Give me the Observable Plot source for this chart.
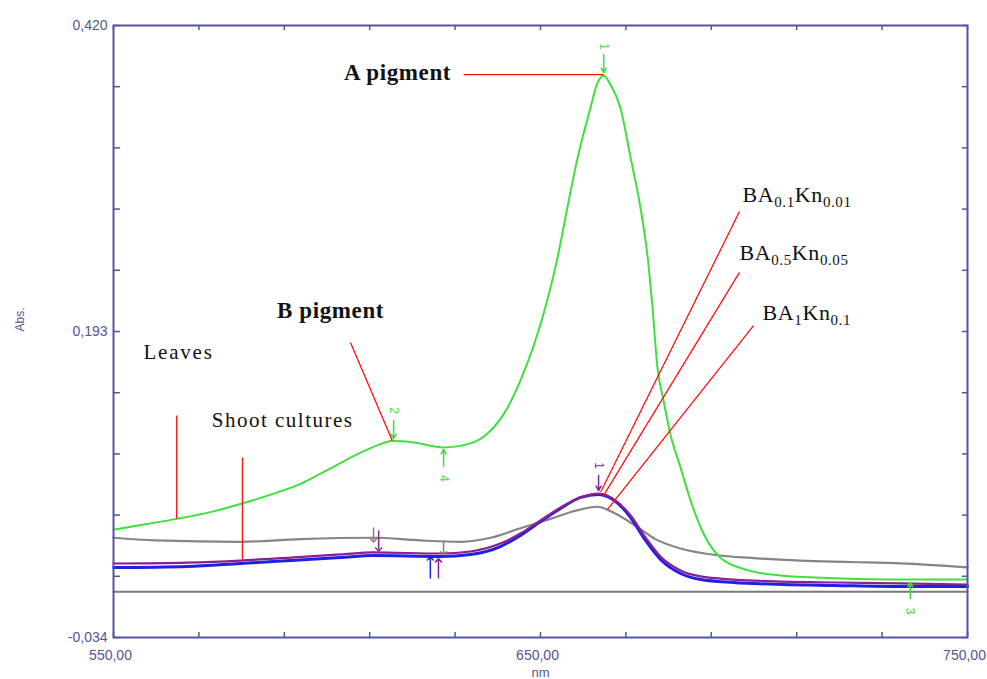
<!DOCTYPE html>
<html>
<head>
<meta charset="utf-8">
<script src="https://cdn.jsdelivr.net/npm/d3@7"></script>
<script src="https://cdn.jsdelivr.net/npm/@observablehq/plot@0.6"></script>
<style>
  html, body { margin: 0; padding: 0; background: #fff; }
</style>
</head>
<body>
<div id="chart"></div>
<script>
// ---- Data (wavelength nm, absorbance) ----
const leavesNm  = [550.0, 557.5, 564.8, 572.7, 579.7, 586.8, 593.8, 598.5, 601.5, 605.5, 610.2, 613.0, 615.3, 620.3, 627.3, 633.6, 637.6, 642.3, 645.3, 650.7, 654.0, 656.3, 658.7, 661.7, 663.3, 664.8, 666.4, 668.7, 671.1, 673.4, 675.1, 676.2, 677.4, 678.8, 680.4, 682.8, 685.1, 688.2, 692.2, 698.5, 706.2, 718.6, 734.3, 750.0];
const leavesAbs = [0.046, 0.050, 0.054, 0.059, 0.065, 0.072, 0.080, 0.0875, 0.0925, 0.0995, 0.1065, 0.110, 0.112, 0.1107, 0.107, 0.110, 0.1173, 0.1366, 0.1567, 0.206, 0.248, 0.285, 0.322, 0.359, 0.377, 0.383, 0.376, 0.359, 0.322, 0.285, 0.248, 0.212, 0.166, 0.142, 0.117, 0.092, 0.068, 0.043, 0.025, 0.016, 0.012, 0.010, 0.009, 0.009];

const grayNm  = [550.0, 559.8, 579.7, 593.8, 610.9, 621.9, 631.3, 638.3, 645.3, 652.3, 658.2, 663.3, 667.5, 672.2, 676.9, 682.8, 691.5, 699.2, 710.9, 722.6, 734.3, 750.0];
const grayAbs = [0.040, 0.038, 0.037, 0.039, 0.040, 0.038, 0.037, 0.040, 0.047, 0.054, 0.060, 0.063, 0.058, 0.049, 0.039, 0.032, 0.027, 0.025, 0.023, 0.022, 0.021, 0.018];

const shootNm     = [550.0, 567.3, 579.7, 591.5, 603.2, 610.9, 626.6, 633.6, 640.6, 645.3, 650.0, 654.7, 659.4, 663.6, 667.6, 671.1, 674.6, 678.1, 682.8, 687.5, 695.2, 706.9, 718.6, 734.3, 750.0];
const purpleAbs   = [0.0209, 0.0216, 0.0231, 0.0253, 0.0276, 0.0291, 0.0283, 0.0298, 0.0357, 0.0431, 0.0528, 0.0624, 0.0699, 0.0728, 0.0676, 0.0565, 0.0402, 0.0261, 0.0157, 0.0113, 0.0090, 0.0075, 0.0068, 0.0061, 0.0053];
const blueAbs     = [0.0179, 0.0187, 0.0209, 0.0231, 0.0253, 0.0268, 0.0261, 0.0276, 0.0335, 0.0417, 0.0520, 0.0617, 0.0699, 0.0721, 0.0669, 0.0550, 0.0380, 0.0239, 0.0135, 0.0090, 0.0068, 0.0053, 0.0046, 0.0038, 0.0038];

const baselineNm  = [550, 750];
const baselineAbs = [0, 0];

// ---- Axis ticks ----
const xTickValues  = [550, 570, 590, 610, 630, 650, 670, 690, 710, 730, 750];
const xLabelValues = [550, 650, 750];
const yTickValues  = [-0.034, 0.0114, 0.0568, 0.1022, 0.1476, 0.193, 0.2384, 0.2838, 0.3292, 0.3746, 0.420];
const yLabelValues = [-0.034, 0.193, 0.420];

// ---- Annotations ----
const annoText  = ["A pigment", "B pigment", "Leaves", "Shoot cultures"];
const annoNm    = [604.0, 588.3, 557.0, 573.0];
const annoAbs   = [0.385, 0.2086, 0.1774, 0.127];
const annoBold  = [true, true, false, false];

const subText = ["BA_{0.1}Kn_{0.01}", "BA_{0.5}Kn_{0.05}", "BA_{1}Kn_{0.1}"];
const subNm   = [697.3, 696.6, 702.0];
const subAbs  = [0.294, 0.251, 0.207];

const redX1 = [632.0, 605.5, 564.8, 580.2, 696.6, 696.6, 699.9];
const redY1 = [0.3836, 0.1848, 0.1307, 0.0995, 0.282, 0.2368, 0.1974];
const redX2 = [664.8, 615.3, 564.8, 580.2, 664.1, 664.9, 665.7];
const redY2 = [0.3836, 0.112, 0.0543, 0.0231, 0.0740, 0.0720, 0.0610];

// peak markers (number, colour, nm, label abs, arrow from, arrow to)
const mkLabel = ["1", "2", "4", "3", "1"];
const mkColor = ["#3fdc3f", "#3fdc3f", "#3fdc3f", "#3fdc3f", "#7a2a9a"];
const mkNm    = [664.8, 615.6, 627.3, 736.6, 663.6];
const mkAbsL  = [0.4044, 0.1344, 0.084, -0.0145, 0.0936];
const mkAbs1  = [0.3985, 0.127, 0.0928, -0.0051, 0.0862];
const mkAbs2  = [0.3851, 0.1136, 0.1055, 0.0068, 0.0750];

// small side markers on shoot-culture curves
const smNm   = [612.1, 624.2, 626.1, 610.9, 627.3];
const smAbs1 = [0.0454, 0.0098, 0.0098, 0.0476, 0.038];
const smAbs2 = [0.0313, 0.0246, 0.0232, 0.038, 0.0284];
const smColor = ["#8a1f8f", "#2020e0", "#8a1f8f", "#808080", "#808080"];

// ---- Build tables ----
const toRows = (xs, ys) => xs.map((x, i) => ({nm: x, abs: ys[i]}));
const leaves = toRows(leavesNm, leavesAbs);
const gray = toRows(grayNm, grayAbs);
const purple = toRows(shootNm, purpleAbs);
const blue = toRows(shootNm, blueAbs);
const base = toRows(baselineNm, baselineAbs);
const annos = annoText.map((t, i) => ({t, nm: annoNm[i], abs: annoAbs[i], bold: annoBold[i]}));
const subs = subText.map((t, i) => ({t, nm: subNm[i], abs: subAbs[i]}));
const reds = redX1.map((x, i) => ({x1: x, y1: redY1[i], x2: redX2[i], y2: redY2[i]}));
const markers = mkLabel.map((l, i) => ({l, c: mkColor[i], nm: mkNm[i], yl: mkAbsL[i], y1: mkAbs1[i], y2: mkAbs2[i]}));
const smalls = smNm.map((x, i) => ({nm: x, y1: smAbs1[i], y2: smAbs2[i], c: smColor[i]}));

const axisColor = "#5454a4";
const labelColor = "#55558f";
const serif = "'Liberation Serif', 'Times New Roman', serif";
const fmtY = d => (d < 0 ? "-" : "") + Math.abs(d).toFixed(3).replace(".", ",");
const fmtX = d => d.toFixed(2).replace(".", ",");

const plot = Plot.plot({
  width: 987,
  height: 679,
  marginLeft: 113,
  marginRight: 20,
  marginTop: 25,
  marginBottom: 42,
  x: {domain: [550, 750], axis: null},
  y: {domain: [-0.034, 0.420], axis: null},
  style: {fontFamily: "'Liberation Sans', Arial, sans-serif", background: "#fff", overflow: "visible"},
  marks: [
    // curves
    Plot.line(base, {x: "nm", y: "abs", stroke: "#7a7a7a", strokeWidth: 2}),
    Plot.line(gray, {x: "nm", y: "abs", stroke: "#858585", strokeWidth: 2.2, curve: "monotone-x"}),
    Plot.line(blue, {x: "nm", y: "abs", stroke: "#1f1fe6", strokeWidth: 3, curve: "monotone-x"}),
    Plot.line(purple, {x: "nm", y: "abs", stroke: "#8a1f8f", strokeWidth: 2.2, curve: "monotone-x"}),
    Plot.line(leaves, {x: "nm", y: "abs", stroke: "#40df40", strokeWidth: 2, curve: "monotone-x"}),

    // small markers
    Plot.link(smalls, {x1: "nm", x2: "nm", y1: "y1", y2: "y2", stroke: "c", strokeWidth: 1.5, markerEnd: "arrow"}),
    Plot.arrow(markers, {x1: "nm", x2: "nm", y1: "y1", y2: "y2", stroke: "c", strokeWidth: 1.5, headLength: 5}),
    Plot.text(markers, {x: "nm", y: "yl", text: "l", fill: "c", rotate: 90, fontSize: 12}),

    // red annotation lines
    Plot.link(reds, {x1: "x1", y1: "y1", x2: "x2", y2: "y2", stroke: "#ff1010", strokeWidth: 1.3}),

    // annotation texts
    Plot.text(annos.filter(d => d.bold), {x: "nm", y: "abs", text: "t", textAnchor: "start", fontSize: 23, fontWeight: "bold", fontFamily: serif, fill: "#111"}),
    Plot.text(annos.filter(d => !d.bold), {x: "nm", y: "abs", text: "t", textAnchor: "start", fontSize: 21, fontFamily: serif, fill: "#111"}),
    Plot.text(subs, {x: "nm", y: "abs", text: "t", textAnchor: "start", fontSize: 22, fontFamily: serif, fill: "#111"}),

    // frame and axes
    Plot.frame({stroke: axisColor, strokeWidth: 2}),
    Plot.axisX(xTickValues, {anchor: "bottom", tickSize: -5, tickFormat: () => "", stroke: axisColor, strokeWidth: 1.5}),
    Plot.axisX(xTickValues, {anchor: "top", tickSize: -4, tickFormat: () => "", stroke: axisColor, strokeWidth: 1.5}),
    Plot.axisY(yTickValues, {anchor: "left", tickSize: -7, tickFormat: () => "", stroke: axisColor, strokeWidth: 1.5}),
    Plot.axisY(yTickValues, {anchor: "right", tickSize: -6, tickFormat: () => "", stroke: axisColor, strokeWidth: 1.5}),
    Plot.axisX(xLabelValues, {anchor: "bottom", tickSize: 0, tickPadding: 13, dx: -3, tickFormat: fmtX, fill: labelColor, fontSize: 14, label: null}),
    Plot.axisY(yLabelValues, {anchor: "left", tickSize: 0, tickPadding: 6, tickFormat: fmtY, fill: labelColor, fontSize: 14, label: null}),
    Plot.text(["Abs."], {frameAnchor: "left", dx: -93, rotate: -90, fill: labelColor, fontSize: 12}),
    Plot.text(["nm"], {frameAnchor: "bottom", dy: 39, fill: labelColor, fontSize: 13})
  ]
});

// letter spacing to match the original's wider type
const spacing = {"A pigment": 0.6, "B pigment": 0.6, "Leaves": 1.8, "Shoot cultures": 1.5};
d3.select(plot).selectAll("text").each(function () {
  const t = this.textContent;
  if (spacing[t] !== undefined) this.setAttribute("letter-spacing", spacing[t]);
});

// convert _{...} into subscript tspans
d3.select(plot).selectAll("text").each(function () {
  const t = this.textContent;
  if (!t.includes("_{")) return;
  const parts = t.split(/_\{([^}]*)\}/);
  const sel = d3.select(this);
  sel.text(null).attr("letter-spacing", 0.6);
  parts.forEach((p, i) => {
    if (p === "") return;
    const isSub = i % 2 === 1;
    const ts = sel.append("tspan").text(p);
    if (isSub) ts.attr("font-size", 15).attr("dy", 5);
    else if (i > 0) ts.attr("dy", -5);
  });
});

document.getElementById("chart").appendChild(plot);
</script>
</body>
</html>
